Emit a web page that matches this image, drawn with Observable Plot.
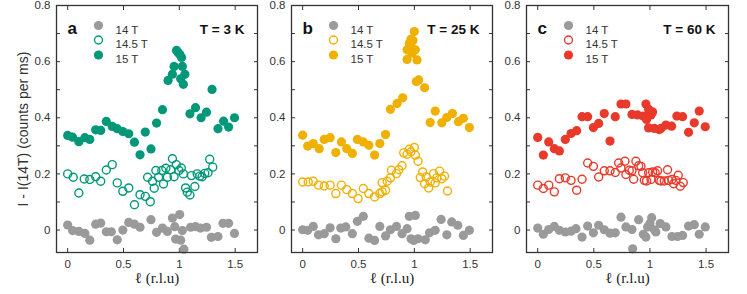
<!DOCTYPE html>
<html><head><meta charset="utf-8">
<script src="https://cdn.jsdelivr.net/npm/d3@7"></script>
<script src="https://cdn.jsdelivr.net/npm/@observablehq/plot@0.6"></script>
<style>
body{margin:0;background:#fff;}
#chart{position:relative;width:747px;height:294px;overflow:hidden;background:#fff;}
#chart > div{position:absolute;top:0;}
</style></head><body><div id="chart"></div>
<script>
const fieldLabels = ["14 T", "14.5 T", "15 T"];
const panelLetters = ["a", "b", "c"];
const tempLabels = ["T = 3 K", "T = 25 K", "T = 60 K"];
const panelColors = ["#009878", "#EFB000", "#E8392B"];
const greyColor = "#9a9a9a";
const xTicks = [0, 0.5, 1, 1.5];
const yTickLabels = [0, 0.2, 0.4, 0.6, 0.8];
const yTickMarks = [0, 0.1, 0.2, 0.3, 0.4, 0.5, 0.6, 0.7, 0.8];
const yLabel = "I - I(14T) (counts per ms)";
const xLabel = "ℓ (r.l.u)";

// panel a (T = 3 K)
const a14 = [[0,0.018],[0.044,-0.002],[0.1,-0.005],[0.154,-0.012],[0.198,-0.036],[0.251,0.021],[0.296,0.025],[0.346,-0.006],[0.391,-0.006],[0.444,-0.035],[0.494,0.000],[0.547,0.027],[0.598,0.021],[0.648,0.010],[0.746,0.037],[0.796,-0.008],[0.849,0.007],[0.893,-0.005],[0.938,0.043],[0.959,0.012],[1.003,0.055],[0.967,-0.032],[1.012,-0.036],[1.041,-0.068],[1.027,-0.002],[1.101,0.010],[1.145,0.012],[1.189,0.007],[1.243,0.010],[1.287,-0.026],[1.346,-0.023],[1.391,0.024],[1.441,0.024],[1.494,-0.012]];
const a145 = [[0,0.2],[0.05,0.188],[0.1,0.132],[0.148,0.182],[0.198,0.18],[0.251,0.19],[0.296,0.174],[0.346,0.214],[0.399,0.233],[0.444,0.168],[0.494,0.138],[0.547,0.15],[0.598,0.09],[0.648,0.126],[0.695,0.12],[0.74,0.101],[0.716,0.188],[0.76,0.174],[0.775,0.149],[0.79,0.212],[0.814,0.188],[0.843,0.212],[0.858,0.164],[0.879,0.22],[0.893,0.188],[0.923,0.215],[0.938,0.254],[0.953,0.19],[0.973,0.233],[0.997,0.212],[1.018,0.221],[1.036,0.2],[1.056,0.15],[1.071,0.135],[1.095,0.125],[1.109,0.194],[1.139,0.155],[1.16,0.2],[1.183,0.192],[1.204,0.19],[1.228,0.202],[1.257,0.204],[1.272,0.252],[1.299,0.224]];
const a15 = [[0,0.337],[0.044,0.331],[0.1,0.315],[0.154,0.329],[0.198,0.323],[0.251,0.357],[0.296,0.355],[0.346,0.387],[0.399,0.369],[0.444,0.361],[0.494,0.351],[0.547,0.343],[0.598,0.313],[0.648,0.268],[0.695,0.349],[0.746,0.289],[0.796,0.381],[0.849,0.429],[0.899,0.533],[0.938,0.555],[0.953,0.583],[0.975,0.64],[0.99,0.632],[1.005,0.625],[1.02,0.615],[1.027,0.583],[1.012,0.539],[1.05,0.555],[1.036,0.519],[1.095,0.414],[1.145,0.436],[1.195,0.4],[1.243,0.42],[1.293,0.501],[1.346,0.361],[1.396,0.388],[1.441,0.367],[1.494,0.4]];

// panel b (T = 25 K)
const b14 = [[0,0.001],[0.045,-0.001],[0.095,0.013],[0.142,-0.017],[0.193,-0.013],[0.246,0.008],[0.297,-0.031],[0.341,0.007],[0.386,0.011],[0.445,-0.013],[0.49,0.031],[0.543,0.049],[0.593,-0.029],[0.644,-0.037],[0.691,0.013],[0.742,-0.021],[0.786,0.001],[0.84,0.013],[0.89,-0.013],[0.935,0.005],[0.955,0.049],[1.009,0.052],[0.97,-0.031],[0.994,-0.037],[1.033,-0.031],[1.098,-0.035],[1.136,-0.01],[1.187,-0.001],[1.24,0.038],[1.291,-0.017],[1.335,0.029],[1.389,0.017],[1.439,-0.019],[1.493,-0.001]];
const b145 = [[0,0.171],[0.05,0.171],[0.095,0.174],[0.142,0.16],[0.193,0.157],[0.246,0.16],[0.297,0.13],[0.347,0.16],[0.395,0.144],[0.445,0.13],[0.496,0.112],[0.543,0.148],[0.593,0.13],[0.644,0.118],[0.691,0.13],[0.712,0.136],[0.742,0.142],[0.712,0.169],[0.757,0.174],[0.786,0.186],[0.795,0.213],[0.84,0.201],[0.861,0.215],[0.89,0.229],[0.905,0.275],[0.935,0.27],[0.955,0.288],[0.97,0.279],[1.0,0.294],[1.009,0.267],[1.033,0.245],[1.053,0.187],[1.074,0.207],[1.092,0.165],[1.107,0.189],[1.128,0.15],[1.142,0.171],[1.172,0.201],[1.187,0.168],[1.202,0.186],[1.226,0.21],[1.246,0.183],[1.27,0.192],[1.297,0.139]];
const b15 = [[0,0.338],[0.045,0.299],[0.095,0.308],[0.148,0.29],[0.193,0.323],[0.246,0.329],[0.297,0.276],[0.347,0.314],[0.395,0.29],[0.445,0.273],[0.49,0.323],[0.543,0.314],[0.593,0.302],[0.644,0.267],[0.691,0.308],[0.742,0.34],[0.786,0.43],[0.846,0.451],[0.896,0.471],[1.018,0.529],[1.039,0.535],[1.092,0.507],[0.935,0.608],[1.024,0.606],[0.979,0.63],[0.935,0.642],[1.009,0.642],[0.97,0.654],[0.955,0.665],[0.988,0.675],[0.97,0.68],[1.0,0.707],[1.142,0.383],[1.187,0.424],[1.246,0.382],[1.291,0.401],[1.341,0.415],[1.395,0.386],[1.439,0.398],[1.493,0.365]];

// panel c (T = 60 K)
const c14 = [[0,0.007],[0.05,-0.015],[0.098,0.002],[0.148,0.013],[0.193,-0.001],[0.246,-0.007],[0.297,-0.004],[0.341,0.005],[0.395,-0.025],[0.445,0.014],[0.496,-0.01],[0.543,0.017],[0.593,0.001],[0.644,-0.011],[0.691,-0.01],[0.742,0.046],[0.786,0.011],[0.84,0.002],[0.846,-0.067],[0.899,0.037],[0.941,-0.015],[0.964,-0.025],[0.979,0.011],[1.0,0.023],[1.015,0.044],[1.039,0.001],[1.053,-0.007],[1.092,0.023],[1.142,0.011],[1.196,-0.023],[1.246,-0.023],[1.291,-0.019],[1.344,0.014],[1.395,0.019],[1.439,-0.015],[1.493,0.011]];
const c145 = [[0,0.16],[0.05,0.148],[0.098,0.16],[0.148,0.136],[0.193,0.183],[0.246,0.186],[0.297,0.177],[0.347,0.142],[0.395,0.181],[0.445,0.239],[0.496,0.227],[0.543,0.189],[0.593,0.211],[0.644,0.211],[0.691,0.205],[0.721,0.239],[0.742,0.221],[0.777,0.245],[0.786,0.198],[0.816,0.213],[0.84,0.211],[0.855,0.181],[0.875,0.245],[0.899,0.229],[0.92,0.227],[0.935,0.204],[0.95,0.177],[0.97,0.175],[0.988,0.204],[1.009,0.18],[1.024,0.207],[1.047,0.204],[1.068,0.211],[1.083,0.177],[1.098,0.175],[1.128,0.175],[1.157,0.215],[1.166,0.177],[1.196,0.18],[1.211,0.165],[1.231,0.177],[1.252,0.195],[1.27,0.156],[1.297,0.169]];
const c15 = [[0,0.33],[0.05,0.267],[0.098,0.314],[0.148,0.29],[0.193,0.282],[0.246,0.323],[0.297,0.344],[0.347,0.354],[0.395,0.404],[0.445,0.404],[0.496,0.365],[0.543,0.38],[0.593,0.415],[0.644,0.317],[0.691,0.404],[0.742,0.449],[0.786,0.449],[0.84,0.412],[0.89,0.41],[0.941,0.406],[0.964,0.449],[0.988,0.43],[1.009,0.41],[0.97,0.394],[1.024,0.421],[0.988,0.364],[1.039,0.362],[1.083,0.358],[1.098,0.362],[1.142,0.374],[1.193,0.37],[1.24,0.406],[1.291,0.404],[1.344,0.348],[1.395,0.382],[1.439,0.424],[1.493,0.368]];

const panels = [
  {s14: a14, s145: a145, s15: a15, left: 0, marginLeft: 56, frameW: 201, yLab: true},
  {s14: b14, s145: b145, s15: b15, left: 255, marginLeft: 36, frameW: 201, yLab: false},
  {s14: c14, s145: c145, s15: c15, left: 490, marginLeft: 36, frameW: 202, yLab: false}
];

const ink = "#333";
const R = 4.6;

panels.forEach((p, i) => {
  const col = panelColors[i];
  const marginRight = 4;
  const marks = [
    Plot.axisX(xTicks, {anchor: "bottom", tickSize: -4, fill: "none", stroke: ink}),
    Plot.axisX(xTicks, {anchor: "top", tickSize: -4, fill: "none", stroke: ink}),
    Plot.axisY(yTickMarks, {anchor: "left", tickSize: -4, fill: "none", stroke: ink}),
    Plot.axisY(yTickMarks, {anchor: "right", tickSize: -4, fill: "none", stroke: ink}),
    Plot.axisX(xTicks, {anchor: "bottom", tickSize: 0, tickPadding: 7, stroke: "none", fill: ink, fontSize: 11.5, label: null, tickFormat: d => String(d)}),
    Plot.axisY(yTickLabels, {anchor: "left", tickSize: 0, tickPadding: 6, stroke: "none", fill: ink, fontSize: 11.5, label: null, tickFormat: d => String(d)}),
    Plot.dot(p.s14, {x: d => d[0], y: d => d[1], r: R, fill: greyColor}),
    Plot.dot(p.s145, {x: d => d[0], y: d => d[1], r: R - 0.6, stroke: col, strokeWidth: 1.4, fill: "none"}),
    Plot.dot(p.s15, {x: d => d[0], y: d => d[1], r: R, fill: col}),
    Plot.frame({stroke: ink, strokeWidth: 1.3}),
    Plot.text([xLabel], {frameAnchor: "bottom", dy: 30, text: d => d, fontFamily: "'Liberation Serif', 'DejaVu Serif', serif", fontSize: 15, fill: "#222"}),
    Plot.text([panelLetters[i]], {frameAnchor: "top-left", dx: 11, dy: 16, text: d => d, fontWeight: "bold", fontSize: 17, textAnchor: "start", fill: "#111"}),
    Plot.text([tempLabels[i]], {frameAnchor: "top-right", dx: -13, dy: 19, text: d => d, fontWeight: "bold", fontSize: 13.5, textAnchor: "end", fill: "#111"})
  ];
  const legendDy = [20, 34.5, 49.5];
  fieldLabels.forEach((lab, k) => {
    const opts = {frameAnchor: "top-left", dx: 42, dy: legendDy[k], r: R};
    if (k === 0) marks.push(Plot.dot([lab], {...opts, fill: greyColor}));
    else if (k === 1) marks.push(Plot.dot([lab], {...opts, r: R - 0.6, stroke: col, strokeWidth: 1.4, fill: "none"}));
    else marks.push(Plot.dot([lab], {...opts, fill: col}));
    marks.push(Plot.text([lab], {frameAnchor: "top-left", dx: 59, dy: legendDy[k], text: d => d, textAnchor: "start", fontSize: 11.5, fill: ink}));
  });
  if (p.yLab) {
    marks.push(Plot.text([yLabel], {frameAnchor: "left", dx: -33, rotate: -90, textAnchor: "middle", text: d => d, fontSize: 14, fill: ink}));
  }
  const chart = Plot.plot({
    width: p.marginLeft + p.frameW + marginRight,
    height: 294,
    marginLeft: p.marginLeft,
    marginRight: marginRight,
    marginTop: 5,
    marginBottom: 42,
    x: {domain: [-0.1, 1.7]},
    y: {domain: [-0.08, 0.8]},
    style: {fontFamily: "'Liberation Sans', Arial, sans-serif", fontSize: "11.5px", color: ink, background: "transparent", overflow: "visible"},
    marks
  });
  const wrap = document.createElement("div");
  wrap.style.left = p.left + "px";
  wrap.appendChild(chart);
  document.getElementById("chart").appendChild(wrap);
});
</script>
</body></html>
